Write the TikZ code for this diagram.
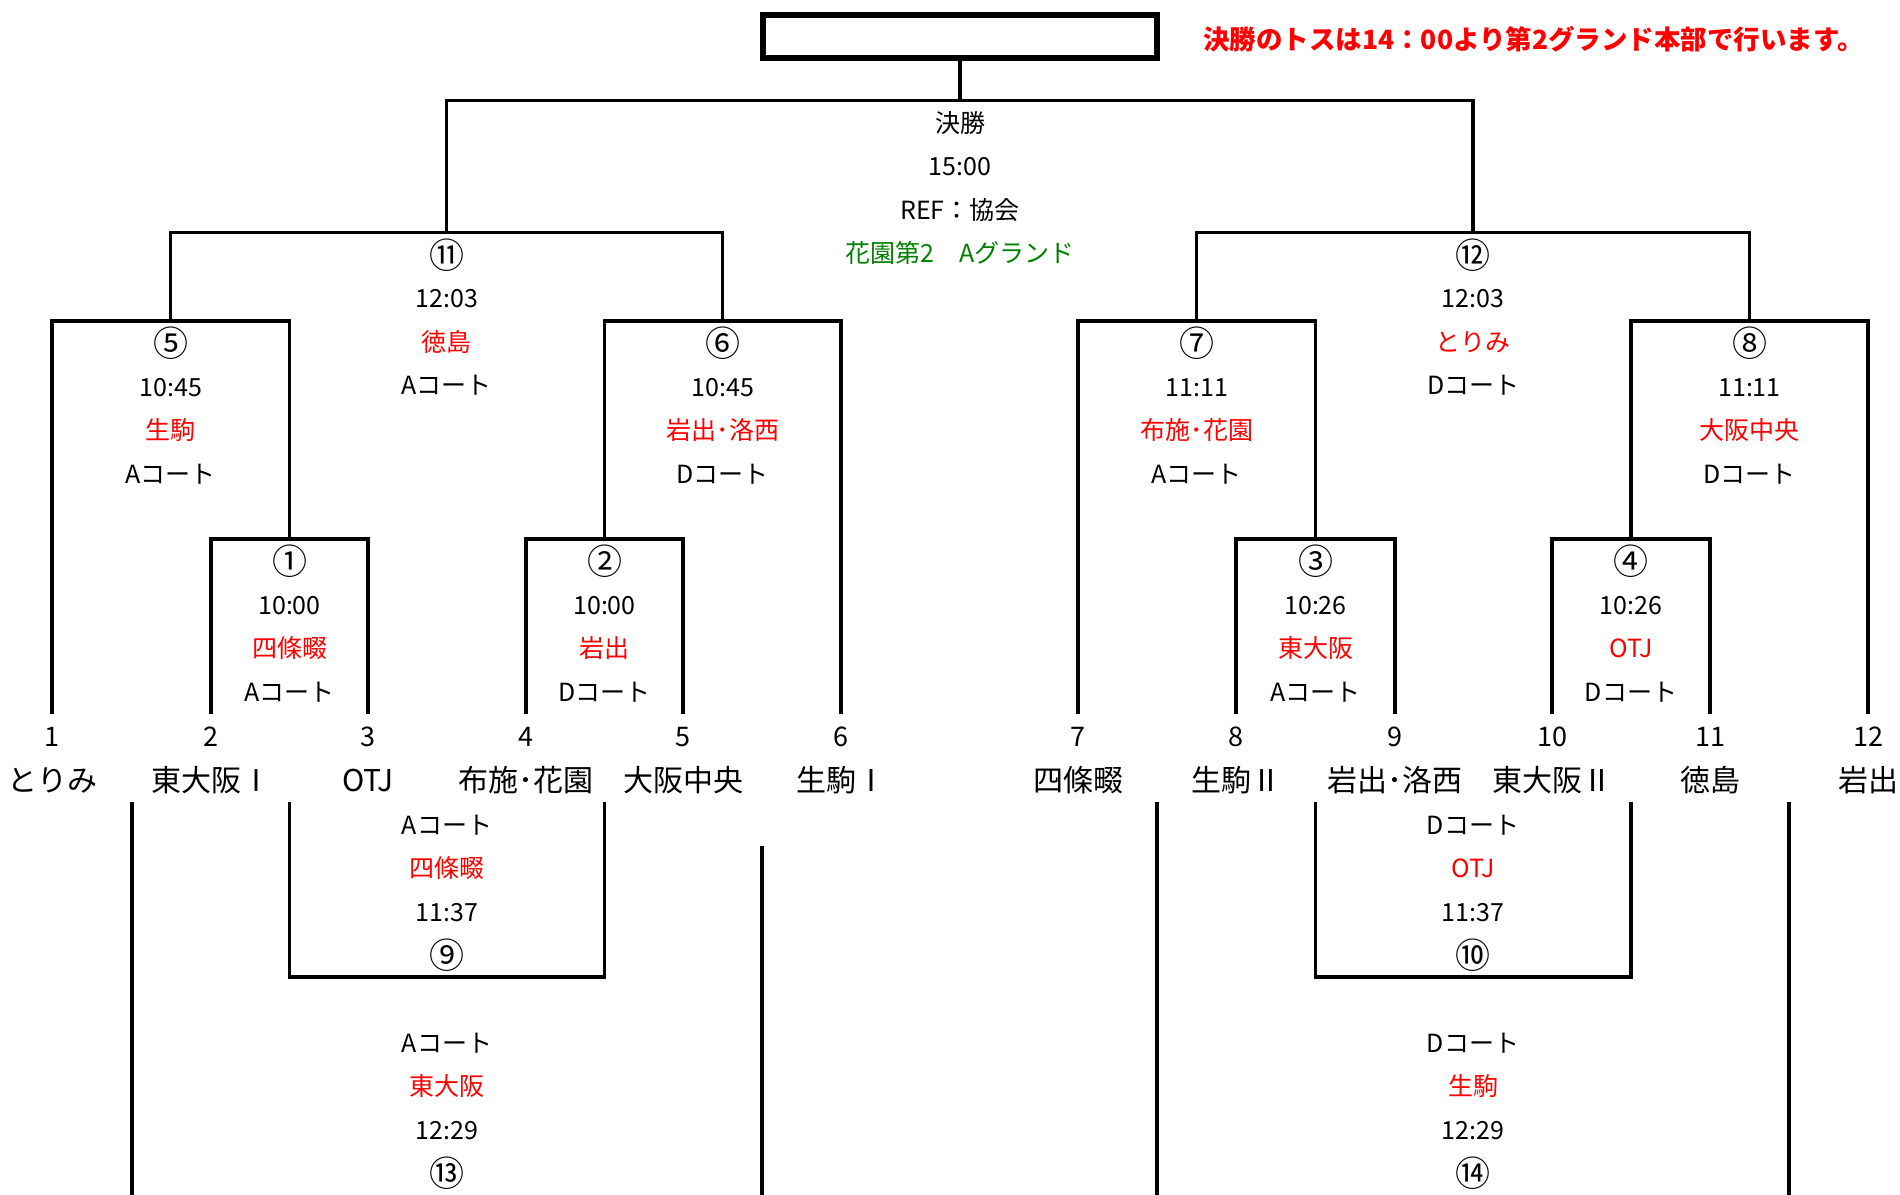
\documentclass[tikz,border=0pt]{standalone}
\usepackage{fontspec}
\setmainfont{Noto Sans CJK JP}
\usepackage{tikz}

\definecolor{winred}{RGB}{255,0,0}
\definecolor{fieldgreen}{RGB}{0,128,0}
\newcommand{\win}[1]{\textcolor{winred}{#1}}
\newcommand{\gameno}[1]{\raisebox{-4pt}{\fontsize{35}{35}\selectfont #1}}

% four lines of a game, hung below (or above) the bar of that game
\newcommand{\gameinfo}[6]{%
  \node[info,node distance=22pt,#2 of=#1](#1a){#3};
  \node[info,#2 of=#1a](#1b){#4};
  \node[info,#2 of=#1b](#1c){#5};
  \node[info,#2 of=#1c](#1d){#6};}

\begin{document}
\begin{tikzpicture}[x=1pt,y=-1pt,node distance=43.5pt]
      \tikzstyle{bracket}=[line width=3.3pt]
      \tikzstyle{info}=[inner sep=0pt,font=\fontsize{25}{30}\selectfont,text height=22pt,text depth=3pt]
      \tikzstyle{seed}=[inner sep=0pt,font=\fontsize{27}{30}\selectfont,text height=23.8pt,text depth=3.2pt]
      \tikzstyle{team}=[inner sep=0pt,font=\fontsize{30}{34}\selectfont,text height=26.4pt,text depth=3.6pt]

      \useasboundingbox (0,0) rectangle (1900,1194);

      % title box and note
      \node[draw,line width=5.6pt,minimum width=394pt,minimum height=43pt](title) at (960,36.2){};
      \node[anchor=west,inner sep=0pt,text=winred,font=\bfseries\fontsize{26.5}{30}\selectfont,
            text height=23.3pt,text depth=3.2pt](note) at (1203,39){決勝のトスは14：00より第2グランド本部で行います。};

      % entries
      \coordinate (p1) at (52,714);   \node[seed,node distance=22.5pt,below of=p1](n1){1};   \node[team,below of=n1](t1){とりみ};
      \coordinate (p2) at (211,714);  \node[seed,node distance=22.5pt,below of=p2](n2){2};   \node[team,below of=n2](t2){東大阪Ⅰ};
      \coordinate (p3) at (368,714);  \node[seed,node distance=22.5pt,below of=p3](n3){3};   \node[team,below of=n3](t3){OTJ};
      \coordinate (p4) at (526,714);  \node[seed,node distance=22.5pt,below of=p4](n4){4};   \node[team,below of=n4](t4){布施･花園};
      \coordinate (p5) at (683,714);  \node[seed,node distance=22.5pt,below of=p5](n5){5};   \node[team,below of=n5](t5){大阪中央};
      \coordinate (p6) at (841,714);  \node[seed,node distance=22.5pt,below of=p6](n6){6};   \node[team,below of=n6](t6){生駒Ⅰ};
      \coordinate (p7) at (1078,714); \node[seed,node distance=22.5pt,below of=p7](n7){7};   \node[team,below of=n7](t7){四條畷};
      \coordinate (p8) at (1236,714); \node[seed,node distance=22.5pt,below of=p8](n8){8};   \node[team,below of=n8](t8){生駒Ⅱ};
      \coordinate (p9) at (1395,714); \node[seed,node distance=22.5pt,below of=p9](n9){9};   \node[team,below of=n9](t9){岩出･洛西};
      \coordinate (p10) at (1552,714);\node[seed,node distance=22.5pt,below of=p10](n10){10};\node[team,below of=n10](t10){東大阪Ⅱ};
      \coordinate (p11) at (1710,714);\node[seed,node distance=22.5pt,below of=p11](n11){11};\node[team,below of=n11](t11){徳島};
      \coordinate (p12) at (1868,714);\node[seed,node distance=22.5pt,below of=p12](n12){12};\node[team,below of=n12](t12){岩出};

      % bars of the games
      \coordinate (m1) at (289.5,539);
      \coordinate (m2) at (604.5,539);
      \coordinate (m3) at (1315.5,539);
      \coordinate (m4) at (1631,539);
      \coordinate (m5) at (170.75,321);
      \coordinate (m6) at (722.75,321);
      \coordinate (m7) at (1196.75,321);
      \coordinate (m8) at (1749.5,321);
      \coordinate (m11) at (446.75,232.6);
      \coordinate (m12) at (1473.1,232.6);
      \coordinate (fin) at (960,100.6);

      \draw[bracket] (p2) |- (m1) -| (p3);
      \draw[bracket] (p4) |- (m2) -| (p5);
      \draw[bracket] (p8) |- (m3) -| (p9);
      \draw[bracket] (p10) |- (m4) -| (p11);
      \draw[bracket] (p1) |- (m5) -| (m1);
      \draw[bracket] (m2) |- (m6) -| (p6);
      \draw[bracket] (p7) |- (m7) -| (m3);
      \draw[bracket] (m4) |- (m8) -| (p12);
      \draw[bracket] (m5) |- (m11) -| (m6);
      \draw[bracket] (m7) |- (m12) -| (m8);
      \draw[bracket] (m11) |- (fin) -| (m12);
      \draw[bracket] (title) -- (fin);

      \gameinfo{fin}{below}{決勝}{15:00}{REF：協会}{\textcolor{fieldgreen}{花園第2　Aグランド}}
      \gameinfo{m11}{below}{\gameno{⑪}}{12:03}{\win{徳島}}{Aコート}
      \gameinfo{m12}{below}{\gameno{⑫}}{12:03}{\win{とりみ}}{Dコート}
      \gameinfo{m5}{below}{\gameno{⑤}}{10:45}{\win{生駒}}{Aコート}
      \gameinfo{m6}{below}{\gameno{⑥}}{10:45}{\win{岩出･洛西}}{Dコート}
      \gameinfo{m7}{below}{\gameno{⑦}}{11:11}{\win{布施･花園}}{Aコート}
      \gameinfo{m8}{below}{\gameno{⑧}}{11:11}{\win{大阪中央}}{Dコート}
      \gameinfo{m1}{below}{\gameno{①}}{10:00}{\win{四條畷}}{Aコート}
      \gameinfo{m2}{below}{\gameno{②}}{10:00}{\win{岩出}}{Dコート}
      \gameinfo{m3}{below}{\gameno{③}}{10:26}{\win{東大阪}}{Aコート}
      \gameinfo{m4}{below}{\gameno{④}}{10:26}{\win{OTJ}}{Dコート}

      % lower games
      \coordinate (q1) at (289.5,802);
      \coordinate (q2) at (604.5,802);
      \coordinate (q3) at (132,802);
      \coordinate (q4) at (762,846);
      \coordinate (q5) at (1315.5,802);
      \coordinate (q6) at (1631,802);
      \coordinate (q7) at (1157,802);
      \coordinate (q8) at (1789,802);
      \coordinate (m9) at (447,977);
      \coordinate (m10) at (1473,977);
      \coordinate (m13) at (447,1195);
      \coordinate (m14) at (1473,1195);

      \draw[bracket] (q1) |- (m9) -| (q2);
      \draw[bracket] (q5) |- (m10) -| (q6);
      \draw[bracket] (q3) -- (q3 |- m13);
      \draw[bracket] (q4) -- (q4 |- m13);
      \draw[bracket] (q7) -- (q7 |- m14);
      \draw[bracket] (q8) -- (q8 |- m14);

      \gameinfo{m9}{above}{\gameno{⑨}}{11:37}{\win{四條畷}}{Aコート}
      \gameinfo{m10}{above}{\gameno{⑩}}{11:37}{\win{OTJ}}{Dコート}
      \gameinfo{m13}{above}{\gameno{⑬}}{12:29}{\win{東大阪}}{Aコート}
      \gameinfo{m14}{above}{\gameno{⑭}}{12:29}{\win{生駒}}{Dコート}
\end{tikzpicture}
\end{document}
